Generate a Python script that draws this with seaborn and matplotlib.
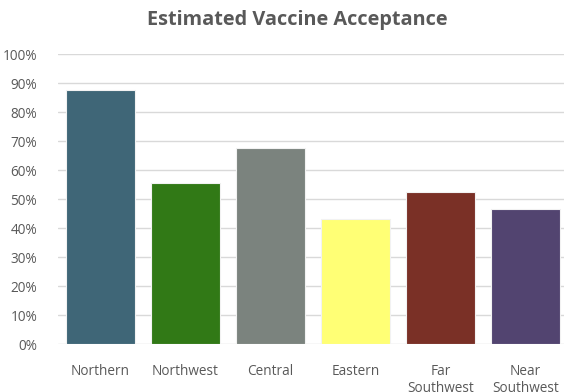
import matplotlib
matplotlib.use("Agg")
import matplotlib.pyplot as plt
import seaborn as sns
import pandas as pd
from matplotlib.ticker import PercentFormatter, MultipleLocator

categories = ["Northern", "Northwest", "Central", "Eastern", "Far\nSouthwest", "Near\nSouthwest"]
acceptance = [0.877, 0.555, 0.676, 0.432, 0.524, 0.465]
colors = ["#3F6677", "#317916", "#7B837E", "#FFFF75", "#7A3026", "#524470"]
title = "Estimated Vaccine Acceptance"

sns.set_theme(style="white")
plt.rcParams["font.family"] = ["Open Sans", "DejaVu Sans"]

df = pd.DataFrame({"region": categories, "value": acceptance})

fig = plt.figure(figsize=(5.64, 3.92), dpi=100)
ax = fig.add_axes([58/564, 0.1217, 506/564, 0.7398])
sns.barplot(data=df, x="region", y="value", hue="region", palette=colors,
            saturation=1, legend=False, width=0.81, edgecolor="#F2F2F2",
            linewidth=0.8, ax=ax, zorder=3)
ax.set_xlim(-0.5, -0.5 + 506/85)
ax.set_ylim(0, 1.0)
ax.yaxis.set_major_locator(MultipleLocator(0.1))
ax.yaxis.set_major_formatter(PercentFormatter(1.0, decimals=0))
ax.grid(axis="y", color="#D9D9D9", linewidth=1.0, zorder=0)
ax.set_axisbelow(True)
for s in ax.spines.values():
    s.set_visible(False)
ax.set_xlabel("")
ax.set_ylabel("")
ax.tick_params(axis="both", length=0, labelsize=9.8, labelcolor="#595959")
ax.tick_params(axis="y", pad=15)
ax.tick_params(axis="x", pad=14)
for lbl in ax.get_xticklabels():
    lbl.set_linespacing(1.25)
fig.text(297/564, 1 - 20/392, title, ha="center", va="center", fontsize=14.3,
         fontweight="bold", color="#595959")
fig.savefig("out.png", dpi=100)
